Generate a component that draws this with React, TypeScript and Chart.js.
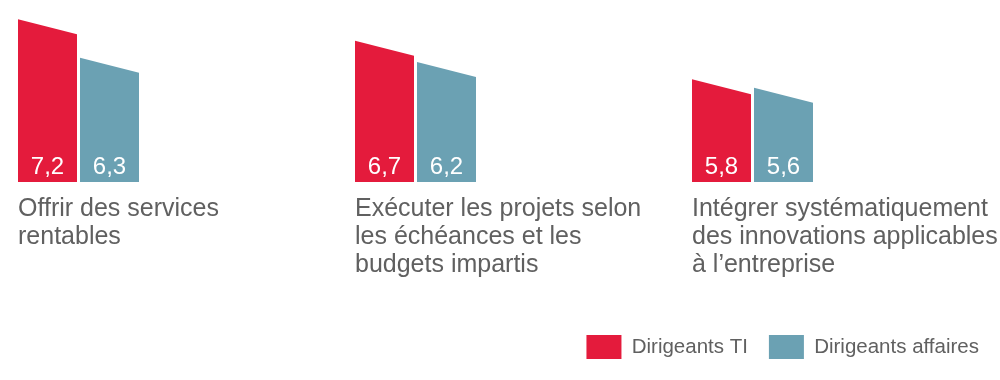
import React, { useEffect, useRef } from "react";
import { Chart, registerables } from "chart.js";

Chart.register(...registerables);

// ---- data ----
const categories: string[][] = [
  ["Offrir des services", "rentables"],
  ["Exécuter les projets selon", "les échéances et les", "budgets impartis"],
  ["Intégrer systématiquement", "des innovations applicables", "à l’entreprise"],
];
const seriesNames: string[] = ["Dirigeants TI", "Dirigeants affaires"];
const dirigeantsTI: number[] = [7.2, 6.7, 5.8];
const dirigeantsAffaires: number[] = [6.3, 6.2, 5.6];
const Y_MIN = 3.4;
const Y_MAX = 7.65;

// ---- styles ----
const seriesColors = ["#E41B3C", "#6BA1B3"];
const TEXT_COLOR = "#606060";
const FONT_FAMILY = "'Liberation Sans', Arial, Helvetica, sans-serif";
const SLANT = 15;
const BAR_GAP = 3;

const fmt = (v: number) => v.toFixed(1).replace(".", ",");

const slantBarsPlugin = {
  id: "slantBars",
  beforeDatasetDraw(chart: any, args: any) {
    const { ctx } = chart;
    const meta = args.meta;
    const ds = chart.data.datasets[args.index];
    ctx.save();
    meta.data.forEach((bar: any, i: number) => {
      const { x, y, base, width } = bar.getProps(["x", "y", "base", "width"], true);
      const w = width - BAR_GAP;
      const l = x - w / 2;
      const r = x + w / 2;
      ctx.fillStyle = ds.backgroundColor;
      ctx.beginPath();
      ctx.moveTo(l, base);
      ctx.lineTo(l, y);
      ctx.lineTo(r, y + SLANT);
      ctx.lineTo(r, base);
      ctx.closePath();
      ctx.fill();
      ctx.fillStyle = "#ffffff";
      ctx.font = `24px ${FONT_FAMILY}`;
      ctx.textAlign = "center";
      ctx.textBaseline = "alphabetic";
      ctx.fillText(fmt(ds.data[i] as number), x, base - 8.5);
    });
    ctx.restore();
    return false;
  },
};

export default function App() {
  const canvasRef = useRef<HTMLCanvasElement | null>(null);

  useEffect(() => {
    if (!canvasRef.current) return;
    const chart = new Chart(canvasRef.current, {
      type: "bar",
      data: {
        labels: categories,
        datasets: [
          {
            label: seriesNames[0],
            data: dirigeantsTI,
            backgroundColor: seriesColors[0],
            borderWidth: 0,
            barThickness: 62,
            base: Y_MIN,
            clip: false as any,
          },
          {
            label: seriesNames[1],
            data: dirigeantsAffaires,
            backgroundColor: seriesColors[1],
            borderWidth: 0,
            barThickness: 62,
            base: Y_MIN,
            clip: false as any,
          },
        ],
      },
      options: {
        responsive: false,
        animation: false,
        layout: { padding: { top: 0, left: 0, right: 0, bottom: 11 } },
        plugins: {
          legend: {
            position: "bottom",
            align: "end",
            labels: {
              boxWidth: 35,
              boxHeight: 24,
              padding: 21,
              color: TEXT_COLOR,
              font: { family: FONT_FAMILY, size: 20.5 },
            },
          },
          tooltip: { enabled: false },
        },
        scales: {
          x: {
            type: "category",
            offset: false,
            grid: { display: false, drawTicks: false },
            border: { display: false },
            ticks: {
              autoSkip: false,
              maxRotation: 0,
              minRotation: 0,
              align: "start",
              labelOffset: -60.5,
              padding: 13,
              color: TEXT_COLOR,
              font: { family: FONT_FAMILY, size: 25, lineHeight: "28px" },
            },
            afterFit: (s: any) => {
              s.paddingLeft = 0;
              s.paddingRight = 0;
              s.height = 132;
            },
          },
          y: {
            type: "linear",
            position: "left",
            min: Y_MIN,
            max: Y_MAX,
            grid: { display: false, drawTicks: false },
            border: { display: false },
            ticks: { display: false },
            afterFit: (s: any) => {
              s.width = 78.5;
            },
          },
          y2: {
            type: "linear",
            position: "right",
            min: 0,
            max: 1,
            grid: { display: false, drawTicks: false },
            border: { display: false },
            ticks: { display: false },
            afterFit: (s: any) => {
              s.width = 247.5;
            },
          },
        },
      },
      plugins: [slantBarsPlugin],
    });
    return () => chart.destroy();
  }, []);

  return (
    <div style={{ position: "absolute", left: 0, top: 0, width: 1000, height: 380, background: "#fff" }}>
      <canvas ref={canvasRef} width={1000} height={380} style={{ display: "block" }} />
    </div>
  );
}
